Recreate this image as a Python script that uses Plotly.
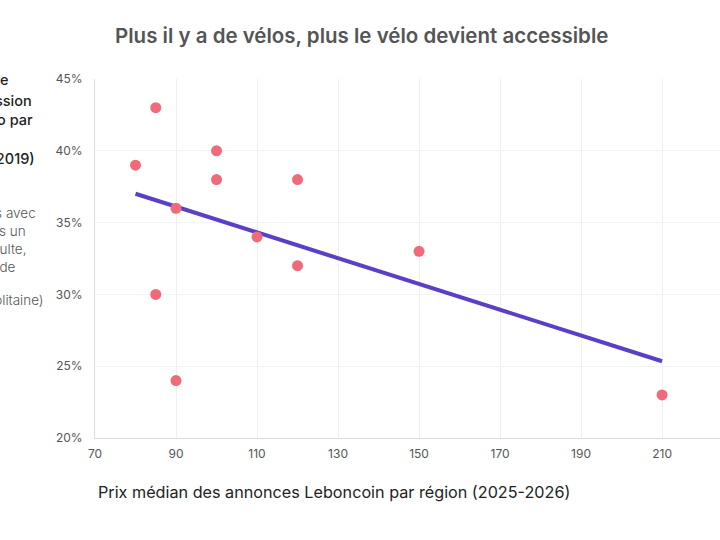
import numpy as np
import plotly.graph_objects as go

# Data
prix_median = [80, 85, 85, 90, 90, 100, 100, 110, 120, 120, 150, 210]
part_velo = [0.39, 0.43, 0.30, 0.36, 0.24, 0.40, 0.38, 0.34, 0.38, 0.32, 0.33, 0.23]
x_ticks = [70, 90, 110, 130, 150, 170, 190, 210]
y_ticks = [0.20, 0.25, 0.30, 0.35, 0.40, 0.45]

title_text = "Plus il y a de vélos, plus le vélo devient accessible"
x_title = "Prix médian des annonces Leboncoin par région (2025-2026)"
y_title_lines = ["Part de la population adulte", "en possession", "d'un vélo par", "(ENTD 2019)"]
y_sub_lines = ["(Part des ménages avec", "au moins un", "vélo adulte,", "en France de", "France métropolitaine)"]

# Trend (least squares on the data)
slope, intercept = np.polyfit(prix_median, part_velo, 1)
trend_x = [min(prix_median), max(prix_median)]
trend_y = [slope * v + intercept for v in trend_x]

W, H = 720, 540
L, R, T, B = 95, 0, 79, 102
pw, ph = W - L - R, H - T - B

def px(xp):
    return (xp - L) / pw

def py(yp):
    return (H - B - yp) / ph

fig = go.Figure()
fig.add_trace(go.Scatter(x=trend_x, y=trend_y, mode="lines",
                         line=dict(color="#5B3FC6", width=4), hoverinfo="skip"))
fig.add_trace(go.Scatter(x=prix_median, y=part_velo, mode="markers",
                         marker=dict(color="#F06A7A", size=11, line=dict(width=0))))

annotations = []
annotations.append(dict(text=title_text, xref="paper", yref="paper", x=px(361), y=py(35),
                        xanchor="center", yanchor="middle", showarrow=False,
                        font=dict(family="Inter", size=20.5, color="#555555", weight=600)))
annotations.append(dict(text=x_title, xref="paper", yref="paper", x=px(96), y=py(492),
                        xanchor="left", yanchor="middle", showarrow=False,
                        font=dict(family="Inter", size=16.2, color="#222222")))
bold_pos = [(11, 79), (34, 100), (35, 119), (37, 158)]
for t, (ex, ey) in zip(y_title_lines, bold_pos):
    annotations.append(dict(text=t, xref="paper", yref="paper", x=px(ex), y=py(ey),
                            xanchor="right", yanchor="middle", showarrow=False,
                            font=dict(family="Inter", size=14.5, color="#222222", weight=500)))
sub_pos = [(38, 213), (28, 231), (28, 249), (18, 267), (46, 300)]
for t, (ex, ey) in zip(y_sub_lines, sub_pos):
    annotations.append(dict(text=t, xref="paper", yref="paper", x=px(ex), y=py(ey),
                            xanchor="right", yanchor="middle", showarrow=False,
                            font=dict(family="Inter", size=13.5, color="#555555", weight=300)))

fig.update_layout(
    width=W, height=H,
    margin=dict(l=L, r=R, t=T, b=B),
    paper_bgcolor="white", plot_bgcolor="white",
    showlegend=False,
    annotations=annotations,
    font=dict(family="Inter", color="#555555"),
    xaxis=dict(range=[70, 224.3], tickvals=x_ticks, showgrid=True, gridcolor="#EFEFEF",
               gridwidth=1, zeroline=False, showline=True, linecolor="#DDDDDD",
               ticks="", tickfont=dict(size=12, color="#555555"), ticklabelstandoff=5),
    yaxis=dict(range=[0.20, 0.45], tickvals=y_ticks, tickformat=".0%", showgrid=True,
               gridcolor="#F3F3F3", gridwidth=1, zeroline=False, showline=True,
               linecolor="#DDDDDD", ticks="", tickfont=dict(size=12, color="#555555"),
               ticklabelstandoff=9),
)

fig.write_html("out.html")
